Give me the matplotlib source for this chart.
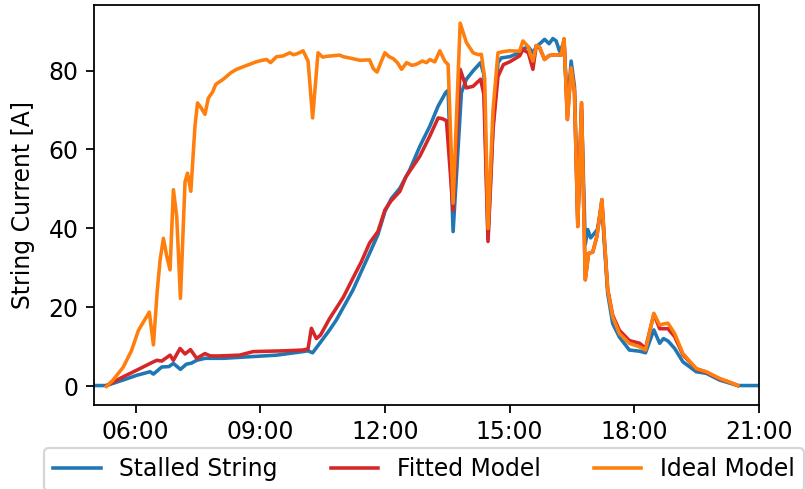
import matplotlib
matplotlib.use("Agg")
import matplotlib.pyplot as plt

# ---------------- data (hours of day, current in A) ----------------
t_stalled = [5.00, 5.30, 5.70, 6.03, 6.35, 6.43, 6.63, 6.80, 6.91, 7.08, 7.22, 7.35, 7.47, 7.67,
             8.11, 8.75, 9.39, 10.03, 10.15, 10.26, 10.43, 10.67, 10.83, 11.23, 11.63, 11.83,
             12.00, 12.15, 12.36, 12.60, 12.84, 13.08, 13.28, 13.46, 13.52, 13.64, 13.84, 13.96,
             14.12, 14.30, 14.38, 14.48, 14.60, 14.72, 14.80, 15.00, 15.24, 15.32, 15.45, 15.56,
             15.64, 15.76, 15.84, 15.95, 16.04, 16.12, 16.20, 16.31, 16.39, 16.48, 16.56, 16.64,
             16.73, 16.82, 16.88, 16.95, 17.11, 17.22, 17.28, 17.36, 17.48, 17.64, 17.88, 18.13,
             18.27, 18.47, 18.61, 18.70, 18.81, 18.97, 19.17, 19.49, 19.73, 20.05, 20.49, 21.00]
i_stalled = [0.2, 0.2, 1.6, 2.8, 3.7, 3.1, 4.9, 5.0, 5.8, 4.3, 5.6, 5.9, 6.6, 7.1,
             7.1, 7.5, 7.9, 8.8, 9.0, 8.5, 10.9, 14.3, 16.8, 24.4, 33.7, 38.4,
             44.3, 47.5, 50.2, 54.9, 60.8, 65.9, 71.0, 74.4, 75.0, 39.2, 74.4, 77.8,
             79.9, 82.0, 79.0, 37.5, 66.0, 82.0, 83.2, 83.5, 84.5, 85.5, 86.0, 84.5,
             86.0, 87.1, 87.9, 86.8, 88.1, 87.5, 84.9, 87.0, 70.0, 82.4, 76.0, 42.0,
             70.0, 36.0, 39.7, 37.6, 39.7, 46.0, 36.0, 23.5, 15.9, 12.5, 9.2, 8.9,
             8.5, 14.3, 10.9, 12.1, 11.5, 9.6, 6.2, 3.7, 3.3, 1.6, 0.2, 0.2]

t_fitted = [5.30, 5.70, 6.03, 6.35, 6.51, 6.63, 6.83, 6.91, 7.07, 7.19, 7.32, 7.47, 7.67, 7.80,
            8.00, 8.50, 8.83, 9.20, 9.60, 10.03, 10.15, 10.23, 10.35, 10.45, 10.67, 10.83,
            11.00, 11.23, 11.43, 11.63, 11.83, 12.00, 12.15, 12.36, 12.50, 12.84, 13.08, 13.28,
            13.38, 13.48, 13.64, 13.81, 13.96, 14.12, 14.30, 14.38, 14.48, 14.60, 14.72, 14.85,
            15.00, 15.24, 15.32, 15.45, 15.56, 15.64, 15.72, 15.84, 15.95, 16.10, 16.24, 16.31,
            16.39, 16.48, 16.56, 16.64, 16.73, 16.82, 16.90, 17.00, 17.10, 17.22, 17.28, 17.36,
            17.48, 17.64, 17.88, 18.13, 18.27, 18.47, 18.61, 18.70, 18.81, 18.97, 19.17, 19.49,
            19.73, 20.05, 20.30, 20.49]
i_fitted = [0.2, 2.4, 4.1, 5.8, 6.6, 6.4, 7.9, 6.6, 9.6, 8.2, 9.3, 7.1, 8.3, 7.7,
            7.7, 7.9, 8.8, 8.9, 9.0, 9.2, 9.5, 14.7, 12.1, 13.0, 17.2, 19.8,
            22.6, 27.4, 31.5, 36.3, 39.2, 44.7, 47.0, 49.4, 53.0, 58.3, 63.4, 68.0,
            67.8, 67.3, 44.5, 80.3, 75.6, 76.0, 77.8, 74.0, 36.7, 65.0, 78.5, 81.5,
            82.2, 83.7, 85.3, 84.5, 80.3, 86.3, 85.8, 82.8, 83.8, 84.0, 83.9, 88.0,
            67.6, 80.7, 74.8, 40.5, 71.8, 27.0, 33.7, 34.0, 38.0, 47.3, 37.1, 24.6,
            18.0, 14.2, 11.6, 10.9, 9.6, 18.3, 14.6, 14.6, 14.6, 12.6, 8.0, 4.4,
            3.6, 1.9, 1.0, 0.2]

t_ideal = [5.30, 5.45, 5.70, 5.90, 6.07, 6.20, 6.33, 6.43, 6.52, 6.59, 6.67, 6.75, 6.83, 6.91,
           6.99, 7.08, 7.19, 7.25, 7.33, 7.43, 7.49, 7.58, 7.67, 7.75, 7.85, 7.93, 8.11, 8.30,
           8.43, 8.60, 8.75, 8.90, 9.05, 9.15, 9.25, 9.39, 9.55, 9.71, 9.80, 9.90, 10.03, 10.15,
           10.26, 10.39, 10.50, 10.60, 10.91, 11.00, 11.23, 11.40, 11.63, 11.72, 11.81, 11.90,
           12.00, 12.10, 12.20, 12.30, 12.40, 12.52, 12.65, 12.76, 12.90, 13.00, 13.08, 13.20,
           13.32, 13.44, 13.52, 13.64, 13.81, 13.96, 14.12, 14.25, 14.32, 14.40, 14.48, 14.60,
           14.72, 14.85, 15.00, 15.24, 15.32, 15.45, 15.50, 15.56, 15.64, 15.72, 15.84, 15.95,
           16.10, 16.24, 16.31, 16.39, 16.48, 16.56, 16.64, 16.73, 16.82, 16.90, 17.00, 17.10,
           17.22, 17.28, 17.36, 17.48, 17.64, 17.88, 18.13, 18.27, 18.47, 18.61, 18.70, 18.81,
           18.97, 19.17, 19.49, 19.73, 20.05, 20.30, 20.49]
i_ideal = [0.0, 1.5, 4.8, 9.0, 14.2, 16.5, 18.8, 10.5, 24.0, 32.0, 37.5, 33.0, 29.5, 49.8,
           43.0, 22.3, 51.8, 54.0, 49.4, 66.0, 71.8, 70.5, 68.9, 73.0, 74.5, 76.5, 77.8, 79.5,
           80.3, 81.0, 81.6, 82.2, 82.6, 82.8, 82.0, 83.5, 83.7, 84.5, 84.0, 84.3, 85.0, 82.4,
           68.0, 84.5, 83.4, 83.6, 83.9, 83.5, 83.0, 82.6, 82.7, 80.5, 79.6, 82.0,
           84.5, 83.5, 83.0, 82.0, 80.3, 82.0, 81.3, 81.6, 82.4, 82.0, 82.8, 82.2,
           85.0, 82.4, 81.5, 46.4, 92.0, 87.1, 84.5, 84.0, 84.1, 78.0, 40.0, 70.0,
           84.5, 84.8, 85.0, 84.9, 87.5, 86.0, 84.0, 82.4, 86.3, 86.0, 82.8, 83.8,
           84.0, 83.9, 88.0, 67.6, 80.7, 74.8, 40.5, 71.8, 27.0, 33.7, 34.0, 38.0,
           47.3, 37.1, 24.4, 17.6, 13.4, 10.9, 10.0, 9.2, 18.5, 15.5, 15.8, 16.0,
           13.4, 8.3, 4.5, 3.7, 2.0, 1.0, 0.2]

series_labels = ["Stalled String", "Fitted Model", "Ideal Model"]
x_ticks = [6, 9, 12, 15, 18, 21]
x_ticklabels = ["06:00", "09:00", "12:00", "15:00", "18:00", "21:00"]
y_ticks = [0, 20, 40, 60, 80]

# ---------------- figure ----------------
plt.rcParams["font.size"] = 10.6
DPI = 160
fig = plt.figure(figsize=(805 / DPI, 489 / DPI), dpi=DPI)
ax = fig.add_axes([94 / 805, 1 - 404.5 / 489, (759 - 94) / 805, (404.5 - 5) / 489])

ax.plot(t_stalled, i_stalled, color="#1f77b4", lw=1.6, label=series_labels[0])
ax.plot(t_fitted, i_fitted, color="#d62728", lw=1.6, label=series_labels[1])
ax.plot(t_ideal, i_ideal, color="#ff7f0e", lw=1.6, label=series_labels[2])

ax.set_xlim(5, 21)
ax.set_ylim(-4.6, 96.6)
ax.set_xticks(x_ticks)
ax.set_xticklabels(x_ticklabels)
ax.set_yticks(y_ticks)
ax.set_ylabel("String Current [A]", labelpad=6)

fig.legend(loc="upper left", bbox_to_anchor=(44 / 805, 1 - 448 / 489),
           bbox_transform=fig.transFigure, ncol=3, frameon=True, borderaxespad=0,
           columnspacing=2.25, handletextpad=0.8)

fig.savefig("out.png", dpi=DPI)
